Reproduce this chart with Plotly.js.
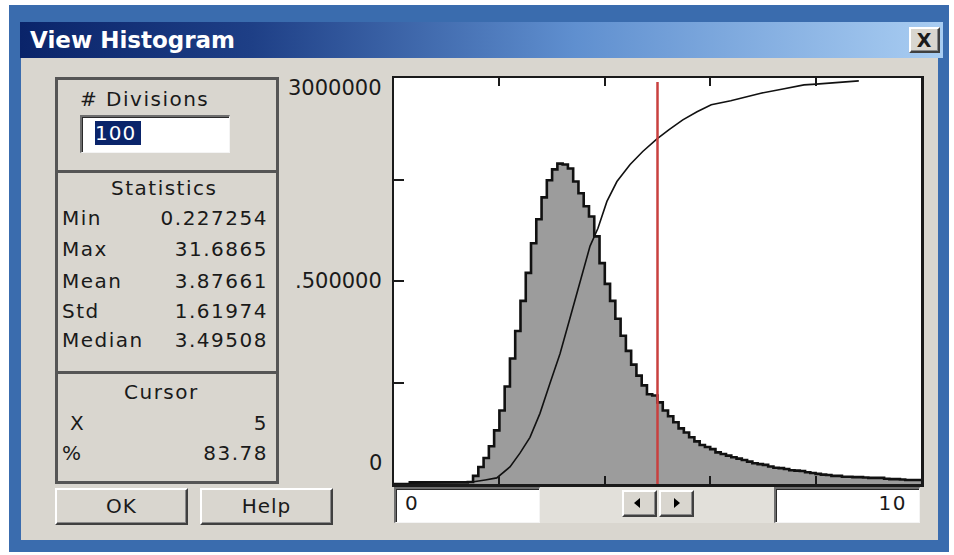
<!DOCTYPE html>
<html>
<head>
<meta charset="utf-8">
<script src="https://cdn.plot.ly/plotly-3.0.1.min.js"></script>
<style>
  html, body { margin:0; padding:0; background:#ffffff; }
  #page { position:relative; width:954px; height:555px; overflow:hidden; background:#ffffff;
          font-family:"DejaVu Sans", sans-serif; color:#1a1a1a; }
  .abs { position:absolute; }
  .txt { position:absolute; font-size:20px; letter-spacing:1.5px; white-space:nowrap; height:30px; line-height:30px; }
  .box { position:absolute; border:3px solid #555; box-sizing:border-box; }
  .btn { position:absolute; box-sizing:border-box; background:#d9d6cf;
         border-top:2px solid #ffffff; border-left:2px solid #ffffff;
         border-right:2px solid #404040; border-bottom:2px solid #404040;
         box-shadow: inset -1px -1px 0 #8a8a8a; text-align:center; font-size:20px; letter-spacing:1px; }
  .sunk { position:absolute; box-sizing:border-box; background:#ffffff;
          border-top:2px solid #6e6e6e; border-left:2px solid #6e6e6e;
          border-right:1px solid #f4f4f4; border-bottom:1px solid #f4f4f4;
          box-shadow: inset 1px 1px 0 #2a2a2a; }
</style>
</head>
<body>
<div id="page">
  <!-- window frame -->
  <div class="abs" style="left:9px;top:5px;width:940px;height:547px;background:#3a6cae;"></div>
  <div class="abs" style="left:20px;top:22px;width:923px;height:36px;background:linear-gradient(to right,#0a246a 0%,#1e3f86 25%,#5f8fcf 60%,#a9cdf2 100%);"></div>
  <div class="abs" style="left:30px;top:22px;height:36px;line-height:36px;font-size:23px;font-weight:bold;color:#ffffff;white-space:nowrap;">View Histogram</div>
  <div class="btn" style="left:909px;top:27px;width:31px;height:26px;line-height:22px;font-weight:bold;font-size:19px;">X</div>
  <div class="abs" style="left:21px;top:58px;width:917px;height:482px;background:#d9d6cf;"></div>

  <!-- left panel -->
  <div class="box" style="left:55px;top:77px;width:224px;height:96px;"></div>
  <div class="box" style="left:55px;top:170px;width:224px;height:204px;"></div>
  <div class="box" style="left:55px;top:371px;width:224px;height:113px;"></div>

  <div class="txt" style="left:80px;top:84px;">#&nbsp;Divisions</div>
  <div class="sunk" style="left:80px;top:115px;width:150px;height:38px;"></div>
  <div class="abs" style="left:95px;top:121px;width:46px;height:24px;background:#0a246a;color:#fff;font-size:20px;line-height:24px;letter-spacing:1px;">100</div>

  <div class="txt" style="left:111px;top:173px;">Statistics</div>
  <div class="txt" style="left:62px;top:203px;">Min</div>
  <div class="txt" style="right:686px;top:203px;">0.227254</div>
  <div class="txt" style="left:62px;top:234px;">Max</div>
  <div class="txt" style="right:686px;top:234px;">31.6865</div>
  <div class="txt" style="left:62px;top:266px;">Mean</div>
  <div class="txt" style="right:686px;top:266px;">3.87661</div>
  <div class="txt" style="left:62px;top:296px;">Std</div>
  <div class="txt" style="right:686px;top:296px;">1.61974</div>
  <div class="txt" style="left:62px;top:325px;">Median</div>
  <div class="txt" style="right:686px;top:325px;">3.49508</div>

  <div class="txt" style="left:124px;top:377px;">Cursor</div>
  <div class="txt" style="left:70px;top:408px;">X</div>
  <div class="txt" style="right:686px;top:408px;">5</div>
  <div class="txt" style="left:62px;top:438px;">%</div>
  <div class="txt" style="right:686px;top:438px;">83.78</div>

  <div class="btn" style="left:55px;top:488px;width:133px;height:37px;line-height:33px;">OK</div>
  <div class="btn" style="left:200px;top:488px;width:133px;height:37px;line-height:33px;">Help</div>

  <!-- range controls -->
  <div class="abs" style="left:540px;top:487px;width:234px;height:36px;background:#e2e0da;"></div>
  <div class="sunk" style="left:394px;top:487px;width:146px;height:36px;"></div>
  <div class="txt" style="left:405px;top:488px;">0</div>
  <div class="sunk" style="left:774px;top:487px;width:146px;height:36px;"></div>
  <div class="txt" style="right:47px;top:488px;">10</div>
  <div class="btn" style="left:622px;top:490px;width:35px;height:27px;"></div>
  <div class="btn" style="left:659px;top:490px;width:35px;height:27px;"></div>
  <div class="abs" style="left:634px;top:498px;width:0;height:0;border-top:5px solid transparent;border-bottom:5px solid transparent;border-right:6px solid #000;"></div>
  <div class="abs" style="left:674px;top:498px;width:0;height:0;border-top:5px solid transparent;border-bottom:5px solid transparent;border-left:6px solid #000;"></div>

  <div id="plot" class="abs" style="left:281px;top:70px;width:649px;height:420px;"></div>
</div>

<script>
// histogram settings (from the dialog)
const rangeLo = 0;
const rangeHi = 10;
const divisions = 100;

// relative bin heights (one per division, 0..10)
const binHeights = [
  0, 0, 0, 0.004, 0.004, 0.004, 0.004, 0.004, 0.004, 0.004,
  0.004, 0.004, 0.004, 0.004, 0.005, 0.02, 0.042, 0.064, 0.093, 0.132,
  0.181, 0.24, 0.309, 0.377, 0.451, 0.52, 0.593, 0.652, 0.706, 0.748,
  0.775, 0.789, 0.787, 0.777, 0.745, 0.716, 0.684, 0.659, 0.61, 0.544,
  0.493, 0.451, 0.407, 0.365, 0.328, 0.294, 0.267, 0.243, 0.221, 0.218,
  0.201, 0.181, 0.167, 0.152, 0.137, 0.127, 0.115, 0.105, 0.096, 0.091,
  0.086, 0.078, 0.074, 0.07, 0.066, 0.0625, 0.059, 0.055, 0.051, 0.049,
  0.047, 0.043, 0.04, 0.039, 0.037, 0.034, 0.033, 0.032, 0.029, 0.027,
  0.025, 0.023, 0.022, 0.02, 0.02, 0.018, 0.018, 0.017, 0.017, 0.016,
  0.015, 0.015, 0.015, 0.013, 0.012, 0.012, 0.011, 0.01, 0.01, 0.01
];

// cumulative curve
const cdfX = [0.3, 1.48, 1.73, 1.95, 2.2, 2.39, 2.58, 2.77, 2.96, 3.15, 3.34, 3.53, 3.72, 3.87, 4.04, 4.23, 4.48, 4.72, 4.99, 5.22, 5.48, 5.75, 6.02, 6.39, 6.66, 6.98, 7.38, 7.78, 8.01, 8.43, 8.82];
const cdfY = [0.002, 0.005, 0.01, 0.015, 0.042, 0.076, 0.115, 0.174, 0.248, 0.321, 0.409, 0.495, 0.586, 0.63, 0.696, 0.745, 0.787, 0.819, 0.85, 0.873, 0.897, 0.917, 0.934, 0.944, 0.953, 0.963, 0.973, 0.983, 0.985, 0.99, 0.993];

// cursor
const cursorX = 5;
const cursorTop = 0.99;

// axis tick labels as shown
const yLabelText = ["0", ".500000", "3000000"];
const yLabelVal = [0, 0.5, 1];
const xTickVals = [2, 4, 6, 8];
const yTickVals = [0.25, 0.5, 0.75];

const binW = (rangeHi - rangeLo) / divisions;
const edgesX = [];
const edgesY = [];
for (let i = 0; i < binHeights.length; i++) {
  edgesX.push(rangeLo + i * binW);
  edgesY.push(binHeights[i]);
}
edgesX.push(rangeHi);
edgesY.push(binHeights[binHeights.length - 1]);

const traces = [
  { type: 'scatter', mode: 'lines', x: edgesX, y: edgesY,
    line: { shape: 'hv', color: '#111111', width: 2.6 },
    fill: 'tozeroy', fillcolor: '#9c9c9c', hoverinfo: 'skip' },
  { type: 'scatter', mode: 'lines', x: cdfX, y: cdfY,
    line: { color: '#111111', width: 1.6 }, hoverinfo: 'skip' },
  { type: 'scatter', mode: 'lines', x: [cursorX, cursorX], y: [0, cursorTop],
    line: { color: '#c9403f', width: 2.5 }, hoverinfo: 'skip' }
];

const fontUI = { family: 'DejaVu Sans, sans-serif', size: 21, color: '#1a1a1a' };
const yShifts = [21, 0, -10];
const anns = yLabelText.map((t, i) => ({
  text: t, xref: 'paper', x: 0, xanchor: 'right', xshift: -10,
  yref: 'y', y: yLabelVal[i], yanchor: 'middle', yshift: yShifts[i],
  showarrow: false, font: fontUI
}));

const layout = {
  width: 649, height: 420,
  margin: { l: 113, r: 9, t: 8, b: 6, pad: 0 },
  paper_bgcolor: 'rgba(0,0,0,0)',
  plot_bgcolor: '#ffffff',
  showlegend: false,
  xaxis: { range: [rangeLo, rangeHi], showgrid: false, zeroline: false,
           showline: true, linecolor: '#1a1a1a', linewidth: 2.5, mirror: 'ticks',
           ticks: 'inside', ticklen: 8, tickwidth: 2, tickcolor: '#1a1a1a',
           tickvals: xTickVals, showticklabels: false, fixedrange: true },
  yaxis: { range: [0, 1], showgrid: false, zeroline: false,
           showline: true, linecolor: '#1a1a1a', linewidth: 2.5, mirror: true,
           ticks: 'inside', ticklen: 10, tickwidth: 2, tickcolor: '#1a1a1a',
           tickvals: yTickVals, showticklabels: false, fixedrange: true },
  annotations: anns
};

Plotly.newPlot('plot', traces, layout, { staticPlot: true, displayModeBar: false });
</script>
</body>
</html>
